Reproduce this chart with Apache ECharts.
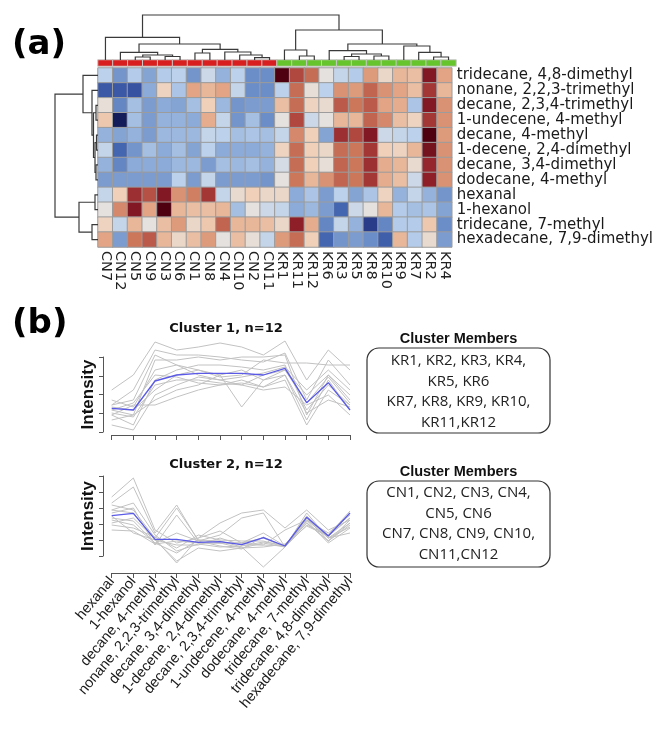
<!DOCTYPE html>
<html><head><meta charset="utf-8">
<script src="https://cdn.jsdelivr.net/npm/echarts/dist/echarts.min.js"></script>
<style>html,body{margin:0;padding:0;background:#fff}#c{width:656px;height:731px}</style>
</head><body><div id="c"></div>
<script>
// ---------- (a) heatmap data ----------
const cols = ['CN7','CN12','CN5','CN9','CN3','CN6','CN1','CN8','CN4','CN10','CN2','CN11',
              'KR1','KR11','KR12','KR6','KR3','KR5','KR8','KR10','KR9','KR7','KR2','KR4'];
const rows = ['tridecane, 4,8-dimethyl','nonane, 2,2,3-trimethyl','decane, 2,3,4-trimethyl',
              '1-undecene, 4-methyl','decane, 4-methyl','1-decene, 2,4-dimethyl',
              'decane, 3,4-dimethyl','dodecane, 4-methyl','hexanal','1-hexanol',
              'tridecane, 7-methyl','hexadecane, 7,9-dimethyl'];
const heat = [
 [-0.5,-1.4,-0.6,-1.2,-0.6,-0.5,-1.4,-0.3,-1.0,-0.5,-1.5,-1.5, 3.0,2.0,1.6,0.0,-0.4,-0.6,1.1,0.3,0.8,0.7,2.6,1.0],
 [-2.2,-2.2,-2.3,-1.1,0.4,-0.7,1.0,0.8,1.0,-0.4,-1.5,-1.5, -0.5,1.6,0.1,-0.5,1.2,1.1,1.7,1.2,1.0,0.7,2.2,0.8],
 [0.1,-1.6,-0.8,-1.3,-1.1,-1.2,-0.8,0.5,-0.9,-1.4,-1.3,-1.3, 0.7,1.6,0.4,0.2,1.8,1.5,1.8,1.0,0.9,-0.7,2.6,1.2],
 [0.6,-3.0,-0.8,-1.3,-1.0,-1.0,-1.1,0.9,-0.4,-1.4,-0.8,-1.5, 0.0,2.0,-0.3,0.0,0.8,0.8,1.7,1.3,0.7,0.4,2.2,1.2],
 [-1.0,-1.2,-1.0,-1.3,-0.9,-0.9,-0.9,-0.4,-0.5,-0.8,-0.7,-0.8, -0.4,1.3,0.5,-1.2,2.3,2.0,2.6,-0.3,-0.4,-0.5,3.0,1.1],
 [-0.4,-2.0,-1.4,-0.8,-1.1,-0.8,-1.2,-0.5,-1.1,-1.1,-1.1,-1.0, 0.4,1.6,0.5,0.3,1.6,1.5,2.2,0.5,0.4,0.8,2.7,1.2],
 [-1.0,-1.6,-1.1,-1.1,-1.1,-0.9,-0.9,-1.3,-0.8,-0.9,-0.8,-1.0, -0.2,1.6,0.5,0.1,1.7,1.5,2.3,0.9,0.8,0.2,2.4,1.2],
 [-1.3,-1.3,-1.3,-1.3,-1.3,-0.5,-1.3,-0.4,-1.3,-1.3,-1.3,-1.4, 0.0,1.5,0.8,1.2,1.7,1.5,2.2,0.9,0.7,-0.3,2.5,1.2],
 [-0.4,0.5,2.3,1.9,2.6,1.2,1.4,2.2,-0.4,0.2,0.5,0.3, 0.3,-1.1,-0.7,-1.3,-0.5,-1.2,-0.7,0.4,-1.0,-0.4,-1.0,-1.4],
 [0.0,1.3,2.6,1.0,3.0,0.8,0.7,0.7,0.8,-0.8,0.0,-0.3, -0.4,-1.1,-0.9,-1.3,-2.0,-0.3,0.0,0.8,-0.6,-0.8,-0.7,-1.2],
 [0.4,-0.4,0.8,0.0,0.7,1.1,0.3,0.6,1.7,0.8,0.8,0.7, 0.3,2.5,0.9,-1.6,-0.4,-1.0,-2.6,-1.6,-0.6,-0.6,0.6,-1.5],
 [1.0,-1.3,1.5,1.8,0.8,0.3,0.7,1.1,0.0,0.7,0.1,-0.4, 1.1,1.6,0.5,-2.0,-1.4,-1.3,-1.5,-2.1,0.8,-0.6,0.2,-1.3]
];
// dendrogram merges (hclust style: negative = leaf index+1, positive = earlier merge), [a, b, height]
const colMerges = [
 [-3,-4,3],[-5,-6,3.5],[1,2,5],[-2,3,7.7],[-7,-8,7],[-11,-12,2.3],[-10,6,5],[-9,7,8],
 [5,8,10.7],[4,9,16],[-1,10,22.7],
 [-14,-15,4],[-13,12,10],[-17,-18,3.5],[-19,-20,4],[14,15,6],[-16,16,9.3],
 [-23,-24,3],[-22,18,7.7],[-21,19,14],[17,20,16],[13,21,30],
 [11,22,45]
];
const rowMerges = [
 [-3,-4,2],[-5,-6,1.5],[-7,-8,2],[2,3,3],[1,4,4.5],[-2,5,6],[-1,6,15],
 [-9,-10,3],[-11,-12,6],[8,9,19],[7,10,43]
];

// ---------- (b) cluster profiles ----------
const compounds = ['hexanal','1-hexanol','decane, 4-methyl','nonane, 2,2,3-trimethyl',
  'decane, 3,4-dimethyl','1-decene, 2,4-dimethyl','decane, 2,3,4-trimethyl',
  '1-undecene, 4-methyl','dodecane, 4-methyl','tridecane, 7-methyl',
  'tridecane, 4,8-dimethyl','hexadecane, 7,9-dimethyl'];
const cluster1Mean = [2.67,2.5,5.4,6.0,6.17,6.17,6.17,6.0,6.67,3.23,5.23,2.5];
const cluster1Lines = [
 [4.5,6.0,9.3,8.5,8.8,9.2,8.8,8.0,9.4,5.5,8.5,6.5],
 [3.0,4.5,8.5,8.0,8.0,7.8,7.5,7.3,8.2,3.5,7.5,5.0],
 [2.5,2.0,7.5,7.5,7.8,7.5,7.8,7.8,8.0,2.0,6.0,3.5],
 [3.0,3.5,8.0,7.0,6.5,5.8,6.0,7.5,7.2,7.2,7.0,7.0],
 [2.0,1.0,5.5,6.5,7.0,7.0,6.8,6.5,7.0,2.5,5.0,3.0],
 [2.8,2.5,4.5,6.0,6.5,6.0,2.8,5.5,6.5,4.0,6.0,4.0],
 [1.5,2.0,3.5,4.5,5.0,6.0,6.5,5.5,6.0,1.5,5.5,2.5],
 [2.0,3.0,3.0,3.8,4.5,5.0,5.2,4.8,5.5,1.0,4.5,3.0],
 [2.2,1.8,5.0,5.5,5.5,5.2,5.0,4.5,4.8,3.0,4.0,2.0],
 [3.5,2.8,6.5,7.0,6.0,5.5,5.8,6.2,6.8,4.5,6.5,4.5],
 [1.0,0.5,4.0,5.0,5.8,5.5,5.0,6.0,6.5,3.2,5.8,3.2],
 [2.5,3.2,6.0,5.8,5.2,5.0,5.5,4.8,6.0,2.2,3.5,2.8]
];
const cluster2Mean = [5.73,5.97,3.37,3.37,3.07,3.13,2.83,3.53,2.7,5.57,3.7,6.0];
const cluster2Lines = [
 [7.6,9.5,4.3,3.0,3.5,5.0,6.0,6.3,4.5,6.3,4.3,5.3],
 [7.0,8.6,4.0,6.8,3.2,3.8,5.5,6.0,2.6,6.0,3.5,5.0],
 [6.8,6.3,3.5,6.5,3.3,3.0,3.0,4.0,2.7,5.7,3.8,5.5],
 [6.0,6.5,2.8,5.8,3.0,3.0,3.0,3.5,2.6,5.5,3.2,4.8],
 [5.5,5.2,3.0,2.0,3.3,3.2,2.6,0.6,2.6,5.5,3.5,4.0],
 [6.3,6.0,3.3,1.2,2.5,2.2,2.5,3.0,2.6,5.3,4.0,5.8],
 [5.0,5.5,3.4,1.0,3.5,4.2,3.0,2.8,2.7,5.0,3.2,5.3],
 [4.8,4.5,3.6,2.5,3.8,3.3,3.2,3.2,2.6,5.2,3.0,4.5],
 [5.7,4.0,3.3,2.8,2.8,3.5,2.8,2.8,4.3,5.3,3.5,4.6],
 [4.3,4.2,2.9,3.2,3.0,3.0,2.5,2.6,2.9,5.0,3.2,5.0],
 [5.3,4.8,3.0,4.0,3.2,2.7,2.4,3.6,2.6,4.8,3.8,6.2],
 [6.3,7.0,3.8,2.2,2.9,2.6,2.7,3.1,2.8,4.7,3.7,5.5]
];
const cluster1Title = 'Cluster 1, n=12';
const cluster2Title = 'Cluster 2, n=12';
const members1 = ['KR1, KR2, KR3, KR4,','KR5, KR6','KR7, KR8, KR9, KR10,','KR11,KR12'];
const members2 = ['CN1, CN2, CN3, CN4,','CN5, CN6','CN7, CN8, CN9, CN10,','CN11,CN12'];

// ---------- build ----------
function dendro(merges){
  const pos=[], hgt=[], segs=[];
  const get = id => id<0 ? {p:-id-1,h:0} : {p:pos[id-1],h:hgt[id-1]};
  merges.forEach(([a,b,h],i)=>{
    const A=get(a), B=get(b);
    pos[i]=(A.p+B.p)/2; hgt[i]=h;
    segs.push([[A.p,A.h],[A.p,h],[B.p,h],[B.p,B.h]]);
  });
  return segs;
}
const heatData=[];
heat.forEach((r,ri)=>r.forEach((v,ci)=>heatData.push([ci,ri,v])));
const barData = cols.map((c,i)=>({value:[i,0,1],itemStyle:{color:c.startsWith('CN')?'#d81e1e':'#66c42c'}}));
const colSegs = dendro(colMerges).map(s=>({coords:s}));
const rowSegs = dendro(rowMerges).map(s=>({coords:s.map(([p,h])=>[h,p])}));

const DJ='DejaVu Sans', LS='Liberation Sans';
const hidden = {show:false};
const lineSeries=[];
cluster1Lines.forEach(l=>lineSeries.push({type:'line',xAxisIndex:4,yAxisIndex:4,data:l,symbol:'none',silent:true,lineStyle:{color:'#c2c2c2',width:1},z:2}));
lineSeries.push({type:'line',xAxisIndex:4,yAxisIndex:4,data:cluster1Mean,symbol:'none',silent:true,lineStyle:{color:'#5a5ae6',width:1.3},z:3});
cluster2Lines.forEach(l=>lineSeries.push({type:'line',xAxisIndex:6,yAxisIndex:6,data:l,symbol:'none',silent:true,lineStyle:{color:'#c2c2c2',width:1},z:2}));
lineSeries.push({type:'line',xAxisIndex:6,yAxisIndex:6,data:cluster2Mean,symbol:'none',silent:true,lineStyle:{color:'#5a5ae6',width:1.3},z:3});

function decoY(min,max,gi){
  return {gridIndex:gi,type:'value',min:min,max:max,interval:1,
    axisLine:{show:true,lineStyle:{color:'#555',width:1}},
    axisTick:{show:true,length:4,lineStyle:{color:'#555'}},
    axisLabel:{show:false},splitLine:{show:false},
    name:'Intensity',nameLocation:'middle',nameGap:6,
    nameTextStyle:{fontFamily:LS,fontWeight:'bold',fontSize:17,color:'#111'}};
}
function profX(gi,labels){
  return {gridIndex:gi,type:'category',data:compounds,boundaryGap:false,
    axisLine:{show:true,lineStyle:{color:'#555',width:1}},
    axisTick:{show:true,length:5,lineStyle:{color:'#555'}},
    axisLabel:{show:labels,interval:0,rotate:50,margin:6,fontFamily:LS,fontSize:14.5,color:'#1a1a1a'},
    splitLine:{show:false}};
}

const chart = echarts.init(document.getElementById('c'),null,{renderer:'canvas'});
chart.setOption({
  animation:false,
  backgroundColor:'#fff',
  grid:[
    {left:98,top:68,width:358,height:179},
    {left:98,top:60,width:358,height:6},
    {left:98,top:12,width:358,height:48},
    {left:55,top:68,width:43,height:179},
    {left:111.7,top:335,width:238.3,height:100},
    {left:103,top:357,width:10,height:75},
    {left:111.7,top:473,width:238.3,height:100},
    {left:103,top:476,width:10,height:80}
  ],
  xAxis:[
    {gridIndex:0,type:'category',data:cols,position:'bottom',axisLine:hidden,axisTick:hidden,splitLine:hidden,
     axisLabel:{interval:0,rotate:-90,margin:4,fontFamily:DJ,fontSize:14.5,color:'#222'}},
    {gridIndex:1,type:'category',data:cols,show:false},
    {gridIndex:2,type:'value',min:-0.5,max:23.5,show:false},
    {gridIndex:3,type:'value',min:0,max:43,inverse:true,show:false},
    profX(4,false),
    {gridIndex:5,type:'value',show:false},
    profX(6,true),
    {gridIndex:7,type:'value',show:false}
  ],
  yAxis:[
    {gridIndex:0,type:'category',data:rows,inverse:true,position:'right',axisLine:hidden,axisTick:hidden,splitLine:hidden,
     axisLabel:{interval:0,margin:5,fontFamily:DJ,fontSize:15,color:'#1a1a1a'}},
    {gridIndex:1,type:'category',data:['g'],show:false},
    {gridIndex:2,type:'value',min:0,max:48,show:false},
    {gridIndex:3,type:'value',min:-0.5,max:11.5,inverse:true,show:false},
    {gridIndex:4,type:'value',min:0,max:10,show:false},
    decoY(0,4,5),
    {gridIndex:6,type:'value',min:0,max:10,show:false},
    decoY(0,5,7)
  ],
  visualMap:{show:false,seriesIndex:0,dimension:2,min:-3,max:3,
    inRange:{color:['#141c5a','#2e4496','#4466b0','#6c8ec8','#94b2dc','#bcd2ec','#e4e1df',
                    '#f0d0b8','#e2a484','#cc765a','#b04840','#8e1e28','#4e0010']}},
  series:[
    {type:'heatmap',xAxisIndex:0,yAxisIndex:0,data:heatData,silent:true,
     itemStyle:{borderColor:'#9c9c9c',borderWidth:1}},
    {type:'heatmap',xAxisIndex:1,yAxisIndex:1,data:barData,silent:true,
     itemStyle:{borderColor:'#c8c8c8',borderWidth:1}},
    {type:'lines',coordinateSystem:'cartesian2d',xAxisIndex:2,yAxisIndex:2,polyline:true,silent:true,
     data:colSegs,lineStyle:{color:'#3a3a3a',width:1.2,opacity:1}},
    {type:'lines',coordinateSystem:'cartesian2d',xAxisIndex:3,yAxisIndex:3,polyline:true,silent:true,
     data:rowSegs,lineStyle:{color:'#3a3a3a',width:1.2,opacity:1}},
    {type:'line',xAxisIndex:5,yAxisIndex:5,data:[],silent:true},
    {type:'line',xAxisIndex:7,yAxisIndex:7,data:[],silent:true}
  ].concat(lineSeries),
  graphic:[
    {type:'text',x:12,y:45,style:{text:'(a)',font:'bold 34px "DejaVu Sans"',fill:'#000',textVerticalAlign:'middle'}},
    {type:'text',x:12,y:324,style:{text:'(b)',font:'bold 34px "DejaVu Sans"',fill:'#000',textVerticalAlign:'middle'}},
    {type:'text',x:226,y:329,style:{text:cluster1Title,font:'bold 13px "DejaVu Sans"',fill:'#111',textAlign:'center',textVerticalAlign:'middle'}},
    {type:'text',x:226,y:465,style:{text:cluster2Title,font:'bold 13px "DejaVu Sans"',fill:'#111',textAlign:'center',textVerticalAlign:'middle'}},
    {type:'text',x:458.5,y:339,style:{text:'Cluster Members',font:'bold 14.5px "Liberation Sans"',fill:'#111',textAlign:'center',textVerticalAlign:'middle'}},
    {type:'text',x:458.5,y:472,style:{text:'Cluster Members',font:'bold 14.5px "Liberation Sans"',fill:'#111',textAlign:'center',textVerticalAlign:'middle'}},
    {type:'rect',shape:{x:367,y:348,width:183,height:85,r:12},style:{fill:'none',stroke:'#333',lineWidth:1.2}},
    {type:'rect',shape:{x:367,y:481,width:183,height:86,r:12},style:{fill:'none',stroke:'#333',lineWidth:1.2}},
    {type:'text',x:458.5,y:350.75,style:{text:members1.join('\n'),font:'15px "Open Sans"',lineHeight:20.5,fill:'#222',textAlign:'center',textVerticalAlign:'top'}},
    {type:'text',x:458.5,y:482.75,style:{text:members2.join('\n'),font:'15px "Open Sans"',lineHeight:20.5,fill:'#222',textAlign:'center',textVerticalAlign:'top'}}
  ]
});
</script></body></html>
